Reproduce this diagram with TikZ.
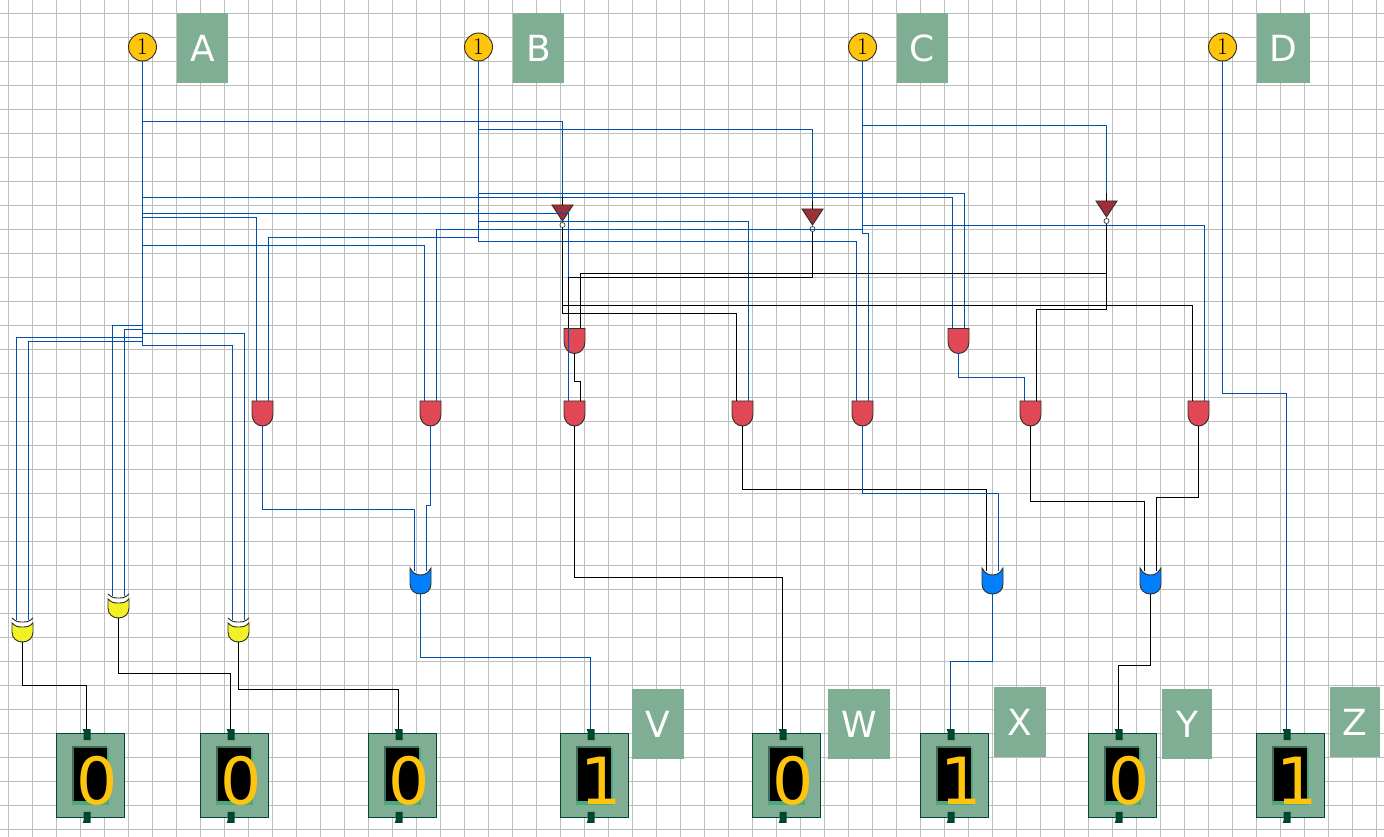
\documentclass[tikz,border=0pt]{standalone}
\usepackage{fontspec}
\usepackage{tikz}
\newfontfamily\labelfont{DejaVu Sans}
\definecolor{gridgray}{RGB}{190,190,190}
\definecolor{wireblue}{RGB}{0,80,172}
\definecolor{boxgreen}{RGB}{127,174,149}
\definecolor{darkgreen}{RGB}{0,71,43}
\definecolor{shadegreen}{RGB}{60,110,88}
\definecolor{lightgreen}{RGB}{75,170,125}
\definecolor{inyellow}{RGB}{255,196,12}
\definecolor{andred}{RGB}{224,72,86}
\definecolor{orblue}{RGB}{0,128,255}
\definecolor{xoryellow}{RGB}{242,242,38}
\definecolor{notred}{RGB}{160,48,56}
\definecolor{gateedge}{RGB}{50,50,40}
\tikzstyle{bwire} = [draw, wireblue, line width=0.9pt]
\tikzstyle{kwire} = [draw, black, line width=0.9pt]
\tikzstyle{gateline} = [draw, gateedge, line width=0.7pt]
\tikzstyle{inport} = [circle, draw, gateedge, fill=inyellow, text=black, line width=0.7pt, inner sep=0pt,
    minimum size=21pt, font=\fontsize{18pt}{18pt}\selectfont]
\tikzstyle{letter} = [rectangle, fill=boxgreen, text=white, inner sep=0pt, minimum width=38.5pt,
    minimum height=52pt, font=\labelfont\fontsize{27pt}{27pt}\selectfont]
\tikzstyle{digit} = [inner sep=0pt, text=inyellow, font=\labelfont\fontsize{48.75pt}{48.75pt}\selectfont]
\tikzstyle{andg} = [inner sep=0pt, outer sep=0pt, minimum width=9pt, minimum height=18.75pt,
    append after command={\pgfextra{
        \draw [gateline, fill=andred] ([shift={(-4.5,0)}]\tikzlastnode.north west) -- ++(21,0) -- ++(0,13)
            .. controls +(0,7) and +(6,0) .. ++(-10.5,12) .. controls +(-6,0) and +(0,7) .. ++(-10.5,-12) -- cycle;
    }}]
\tikzstyle{org} = [inner sep=0pt, outer sep=0pt, minimum width=9pt, minimum height=17.25pt,
    append after command={\pgfextra{
        \draw [gateline, fill=orblue] ([shift={(-4.5,-3)}]\tikzlastnode.north west)
            .. controls +(3,5) and +(-5,0) .. ++(10.5,7) .. controls +(5,0) and +(-3,5) .. ++(10.5,-7)
            -- ++(0,16) .. controls +(0,6) and +(6,0) .. ++(-10.5,10) .. controls +(-6,0) and +(0,6) .. ++(-10.5,-10) -- cycle;
    }}]
\tikzstyle{xorg} = [inner sep=0pt, outer sep=0pt, minimum width=9pt, minimum height=16.5pt,
    append after command={\pgfextra{
        \draw [gateline, fill=xoryellow] ([shift={(-4.5,3)}]\tikzlastnode.north west)
            .. controls +(4,4) and +(-4,0) .. ++(10.5,4) .. controls +(4,0) and +(-4,4) .. ++(10.5,-4)
            -- ++(0,9) .. controls +(0,6) and +(6,0) .. ++(-10.5,10) .. controls +(-6,0) and +(0,6) .. ++(-10.5,-10) -- cycle;
        \draw [gateline] ([shift={(-4.5,-2)}]\tikzlastnode.north west)
            .. controls +(4,4) and +(-4,0) .. ++(10.5,4) .. controls +(4,0) and +(-4,4) .. ++(10.5,-4);
    }}]
\tikzstyle{notg} = [inner sep=0pt, outer sep=0pt, minimum width=15pt, minimum height=17.25pt,
    append after command={\pgfextra{
        \draw [gateline, fill=notred] ([shift={(-10.5,0)}]\tikzlastnode.north) -- ++(21,0) -- ++(-10.5,16) -- cycle;
        \draw [gateline, line width=0.5pt, fill=white] ([shift={(0,20)}]\tikzlastnode.north) circle (1.9pt);
    }}]
\tikzstyle{disp} = [rectangle, inner sep=0pt, minimum width=51pt, minimum height=63pt,
    append after command={\pgfextra{
        \coordinate (\tikzlastnode-in) at ([shift={(-4,-4)}]\tikzlastnode.north);
        \draw [darkgreen, fill=boxgreen, line width=0.7pt] (\tikzlastnode.north west) rectangle (\tikzlastnode.south east);
        \fill [lightgreen] ([shift={(-19,-28)}]\tikzlastnode.center) rectangle ++(37,57);
        \fill [shadegreen] ([shift={(-19,-30)}]\tikzlastnode.center) rectangle ++(35,55);
        \fill [black] ([shift={(-17,-28)}]\tikzlastnode.center) rectangle ++(33,53);
        \fill [darkgreen] ([shift={(-8,-4)}]\tikzlastnode.north) .. controls +(2,2) and +(0,-2) .. ++(1,5) -- ++(0,6)
            -- ++(7,0) -- ++(0,-11) -- cycle;
        \fill [darkgreen] ([shift={(-8,5)}]\tikzlastnode.south) .. controls +(2,-2) and +(0,2) .. ++(1,-5) -- ++(0,-6)
            -- ++(7,0) -- ++(0,11) -- cycle;
    }}]

\begin{document}
\begin{tikzpicture}[x=0.75pt, y=-0.75pt]
    \useasboundingbox (0,0) rectangle (1384,837);
    \fill [white] (0,0) rectangle (1384,837);
    \foreach \gx in {8.5,32.5,...,1376.5} \draw [gridgray, line width=0.75pt] (\gx,0) -- (\gx,837);
    \foreach \gy in {13.5,37.5,...,829.5} \draw [gridgray, line width=0.75pt] (0,\gy) -- (1384,\gy);

    % Place nodes
    \node [inport] (inA) at (142.5,47) {1};
    \node [inport] (inB) at (478.5,47) {1};
    \node [inport] (inC) at (862.5,47) {1};
    \node [inport] (inD) at (1222.5,47) {1};
    \node [letter] (lblA) at (202.5,48) {A};
    \node [letter] (lblB) at (538.5,48) {B};
    \node [letter] (lblC) at (922.5,48) {C};
    \node [letter, minimum width=40pt] (lblD) at (1283.5,48) {D};

    \node [notg] (n1) at (562.5,216.5) {};
    \node [notg] (n2) at (812.5,220.5) {};
    \node [notg] (n3) at (1106.5,212.5) {};

    \node [andg] (a8) at (574.5,341) {};
    \node [andg] (a9) at (958.5,341) {};
    \node [andg] (a1) at (262.5,413.5) {};
    \node [andg] (a2) at (430.5,413.5) {};
    \node [andg] (a3) at (574.5,413.5) {};
    \node [andg] (a4) at (742.5,413.5) {};
    \node [andg] (a5) at (862.5,413.5) {};
    \node [andg] (a6) at (1030.5,413.5) {};
    \node [andg] (a7) at (1198.5,413.5) {};

    \node [org] (o1) at (420.5,582.5) {};
    \node [org] (o2) at (992.5,582.5) {};
    \node [org] (o3) at (1150.5,582.5) {};

    \node [xorg] (x1) at (22.5,631) {};
    \node [xorg] (x2) at (118.5,607) {};
    \node [xorg] (x3) at (238.5,631) {};

    \node [disp] (d1) at (90.5,775.5) {};
    \node [disp] (d2) at (234.5,775.5) {};
    \node [disp] (d3) at (402.5,775.5) {};
    \node [disp] (d4) at (594.5,775.5) {};
    \node [disp] (d5) at (786.5,775.5) {};
    \node [disp] (d6) at (954.5,775.5) {};
    \node [disp] (d7) at (1122.5,775.5) {};
    \node [disp] (d8) at (1290.5,775.5) {};
    \node [digit] (v1) at (97.5,781) {0};
    \node [digit] (v2) at (241.5,781) {0};
    \node [digit] (v3) at (409.5,781) {0};
    \node [digit] (v4) at (601.5,781) {1};
    \node [digit] (v5) at (793.5,781) {0};
    \node [digit] (v6) at (961.5,781) {1};
    \node [digit] (v7) at (1129.5,781) {0};
    \node [digit] (v8) at (1297.5,781) {1};

    \node [letter] (lblV) at (658,724) {V};
    \node [letter, minimum width=46.5pt] (lblW) at (859,724) {W};
    \node [letter] (lblX) at (1020,722) {X};
    \node [letter, minimum width=37.5pt] (lblY) at (1187,724) {Y};
    \node [letter, minimum width=37.5pt] (lblZ) at (1355,722) {Z};

    % input A
    \draw [bwire] (inA.south) |- (562.5,121.5) -- (n1.north);
    \draw [bwire] (inA.south) |- (952.5,197.5) -- (a9.north west);
    \draw [bwire] (inA.south) |- (568.5,213.5) -- (a3.north west);
    \draw [bwire] (inA.south) |- (256.5,217.5) -- (a1.north west);
    \draw [bwire] (inA.south) |- (424.5,245.5) -- (a2.north west);
    \draw [bwire] (inA.south) |- (112.5,325.5) -- (x2.north west);
    \draw [bwire] (inA.south) |- (124.5,329.5) -- (x2.north east);
    \draw [bwire] (inA.south) |- (16.5,337.5) -- (x1.north west);
    \draw [bwire] (inA.south) |- (28.5,341.5) -- (x1.north east);
    \draw [bwire] (inA.south) |- (244.5,333.5) -- (x3.north east);
    \draw [bwire] (inA.south) |- (232.5,345.5) -- (x3.north west);
    % input B
    \draw [bwire] (inB.south) |- (812.5,129.5) -- (n2.north);
    \draw [bwire] (inB.south) |- (964.5,193.5) -- (a9.north east);
    \draw [bwire] (inB.south) |- (748.5,221.5) -- (a4.north east);
    \draw [bwire] (inB.south) |- (268.5,237.5) -- (a1.north east);
    \draw [bwire] (inB.south) |- (856.5,241.5) -- (a5.north west);
    % input C
    \draw [bwire] (inC.south) |- (1106.5,125.5) -- (n3.north);
    \draw [bwire] (inC.south) |- (1204.5,225.5) -- (a7.north east);
    \draw [bwire] (inC.south) |- (436.5,229.5) -- (a2.north east);
    \draw [bwire] (inC.south) |- (868.5,233.5) -- (a5.north east);
    % input D
    \draw [bwire] (inD.south) |- (1286.5,393.5) -- (d8-in);

    % inverters
    \draw [kwire] (n1.south) |- (1192.5,305.5) -- (a7.north west);
    \draw [kwire] (n1.south) |- (736.5,313.5) -- (a4.north west);
    \draw [kwire] (n2.south) |- (568.5,277.5) -- (a8.north west);
    \draw [kwire] (n3.south) |- (580.5,273.5) -- (a8.north east);
    \draw [kwire] (n3.south) |- (1036.5,309.5) -- (a6.north east);
    \draw [kwire] (n1.north) -- ++(0,-8);
    \draw [kwire] (n2.north) -- ++(0,-8);
    \draw [kwire] (n3.north) -- ++(0,-8);

    % gate outputs
    \draw [kwire] (a8.south) |- (580.5,381.5) -- (a3.north east);
    \draw [bwire] (a9.south) |- (1024.5,377.5) -- (a6.north west);
    \draw [bwire] (a1.south) |- (414.5,509.5) -- (o1.north west);
    \draw [bwire] (a2.south) |- (426.5,505.5) -- (o1.north east);
    \draw [kwire] (a3.south) |- (782.5,577.5) -- (d5-in);
    \draw [kwire] (a4.south) |- (986.5,489.5) -- (o2.north west);
    \draw [bwire] (a5.south) |- (998.5,493.5) -- (o2.north east);
    \draw [kwire] (a6.south) |- (1144.5,501.5) -- (o3.north west);
    \draw [kwire] (a7.south) |- (1156.5,497.5) -- (o3.north east);
    \draw [bwire] (o1.south) |- (590.5,657.5) -- (d4-in);
    \draw [bwire] (o2.south) |- (950.5,661.5) -- (d6-in);
    \draw [kwire] (o3.south) |- (1118.5,665.5) -- (d7-in);
    \draw [kwire] (x1.south) |- (86.5,685.5) -- (d1-in);
    \draw [kwire] (x2.south) |- (230.5,673.5) -- (d2-in);
    \draw [kwire] (x3.south) |- (398.5,689.5) -- (d3-in);
\end{tikzpicture}
\end{document}
